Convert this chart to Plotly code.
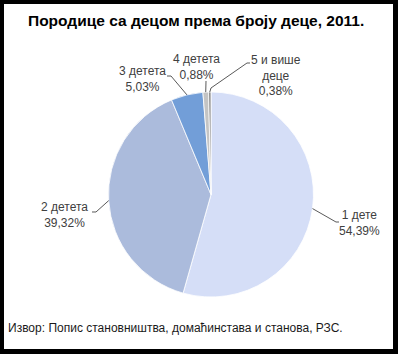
import math
import plotly.graph_objects as go

# ---- data ----
labels = ["1 дете", "2 детета", "3 детета", "4 детета", "5 и више<br>деце"]
values = [54.39, 39.32, 5.03, 0.88, 0.38]
colors = ["#D5DEF7", "#ABBBDC", "#729ED8", "#C4C4C4", "#8A8A8A"]
title_text = "<b>Породице са децом према броју деце, 2011.</b>"
source_text = "Извор: Попис становништва, домаћинстава и станова, РЗС."

# ---- layout geometry (pixels) ----
W, H = 398, 354
cx, cy, r = 211, 194.5, 102.5
# label text centres and leader-line elbows, in pixels
label_pos = [(359, 223), (64, 215), (142, 79), (196, 67), (276, 75)]
elbows = [
    [(336, 222), (339, 222)],
    [(96, 212), (92, 212)],
    [(171, 76), (167, 76)],
    [(206, 81)],
    [(211, 88), (247, 63), (250, 63)],
]

def px(x):
    return x / W

def py(y):
    return 1 - y / H

fig = go.Figure(go.Pie(
    labels=labels,
    values=values,
    sort=False,
    direction="clockwise",
    rotation=0,
    marker=dict(colors=colors, line=dict(color="white", width=0.8)),
    textinfo="none",
    hoverinfo="label+percent",
    showlegend=False,
    domain=dict(x=[px(cx - r), px(cx + r)], y=[py(cy + r), py(cy - r)]),
))

annotations = []
shapes = []
total = sum(values)
cum = 0
for i, v in enumerate(values):
    mid = (cum + v / 2) / total * 2 * math.pi
    cum += v
    ex = cx + r * math.sin(mid)
    ey = cy - r * math.cos(mid)
    pts = [(ex, ey)] + elbows[i]
    path = "M " + " L ".join(f"{px(a):.5f},{py(b):.5f}" for a, b in pts)
    shapes.append(dict(type="path", xref="paper", yref="paper", path=path,
                       line=dict(color="#595959", width=1)))
    pct = f"{v:.2f}".replace(".", ",") + "%"
    lx, ly = label_pos[i]
    annotations.append(dict(
        x=px(lx), y=py(ly), xref="paper", yref="paper",
        text=f"{labels[i]}<br>{pct}", showarrow=False,
        xanchor="center", yanchor="middle", align="center",
        font=dict(family="Liberation Sans, Arial", size=12, color="#404040"),
    ))

annotations.append(dict(
    x=px(196), y=py(21), xref="paper", yref="paper", text=title_text,
    showarrow=False, xanchor="center", yanchor="middle",
    font=dict(family="Liberation Sans, Arial", size=15.5, color="#000000"),
))
annotations.append(dict(
    x=px(6), y=py(328), xref="paper", yref="paper", text=source_text,
    showarrow=False, xanchor="left", yanchor="middle",
    font=dict(family="Liberation Sans, Arial", size=12, color="#1A1A1A"),
))

# black frame
for (x0, y0, x1, y1) in [(0, 0, W, 4), (0, 0, 4, H), (393, 0, W, H), (0, 349, W, H)]:
    shapes.append(dict(type="rect", xref="paper", yref="paper",
                       x0=px(x0), x1=px(x1), y0=py(y1), y1=py(y0),
                       fillcolor="black", line=dict(width=0)))

fig.update_layout(
    width=W, height=H,
    margin=dict(l=0, r=0, t=0, b=0),
    paper_bgcolor="white",
    annotations=annotations,
    shapes=shapes,
)

fig.write_html("out.html", config={"displayModeBar": False})
